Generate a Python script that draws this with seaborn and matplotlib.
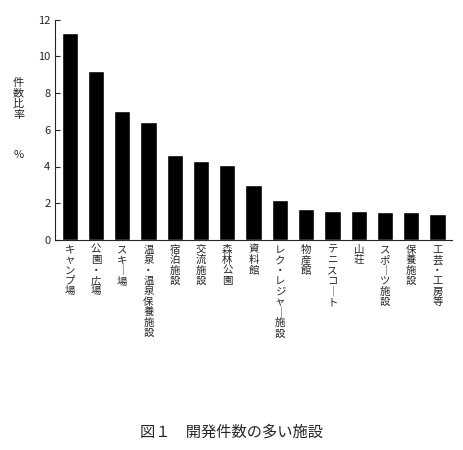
import matplotlib
matplotlib.use("Agg")
import matplotlib.pyplot as plt
import seaborn as sns
import pandas as pd

categories = ["キャンプ場", "公園・広場", "スキー場", "温泉・温泉保養施設", "宿泊施設", "交流施設",
              "森林公園", "資料館", "レク・レジャー施設", "物産館", "テニスコート", "山荘",
              "スポーツ施設", "保養施設", "工芸・工房等"]
values = [11.3, 9.2, 7.0, 6.4, 4.6, 4.3, 4.1, 3.0, 2.2, 1.7, 1.6, 1.6, 1.5, 1.5, 1.4]
yticks = [0, 2, 4, 6, 8, 10, 12]

sns.set_style("ticks")
plt.rcParams['font.family'] = ['Noto Sans CJK JP', 'DejaVu Sans']

df = pd.DataFrame({"cat": categories, "val": values})
fig = plt.figure(figsize=(4.64, 4.5), dpi=100)
ax = fig.add_axes([0.119, 0.467, 0.855, 0.489])
sns.barplot(data=df, x="cat", y="val", color="black", width=0.62, ax=ax)
ax.set_ylim(0, 12)
ax.set_xlim(-0.55, len(categories) - 0.45)
ax.set_yticks(yticks)
ax.set_xlabel("")
ax.set_ylabel("")
ax.tick_params(axis="x", length=0)
ax.tick_params(axis="y", labelsize=8, direction="in")
ax.spines["top"].set_visible(False)
ax.spines["right"].set_visible(False)

def vert(s):
    return "\n".join(s.replace("ー", "｜"))

ax.set_xticks(range(len(categories)))
ax.set_xticklabels([vert(c) for c in categories], fontsize=7.5, va="top", linespacing=1.05)

fig.text(0.04, 0.78, vert("件数比率"), fontsize=8, ha="center", va="center", linespacing=1.1)
fig.text(0.04, 0.655, "%", fontsize=8, ha="center", va="center")
fig.text(0.5, 0.04, "図１　開発件数の多い施設", fontsize=11, ha="center", va="center")

fig.savefig("out.png", dpi=100)
